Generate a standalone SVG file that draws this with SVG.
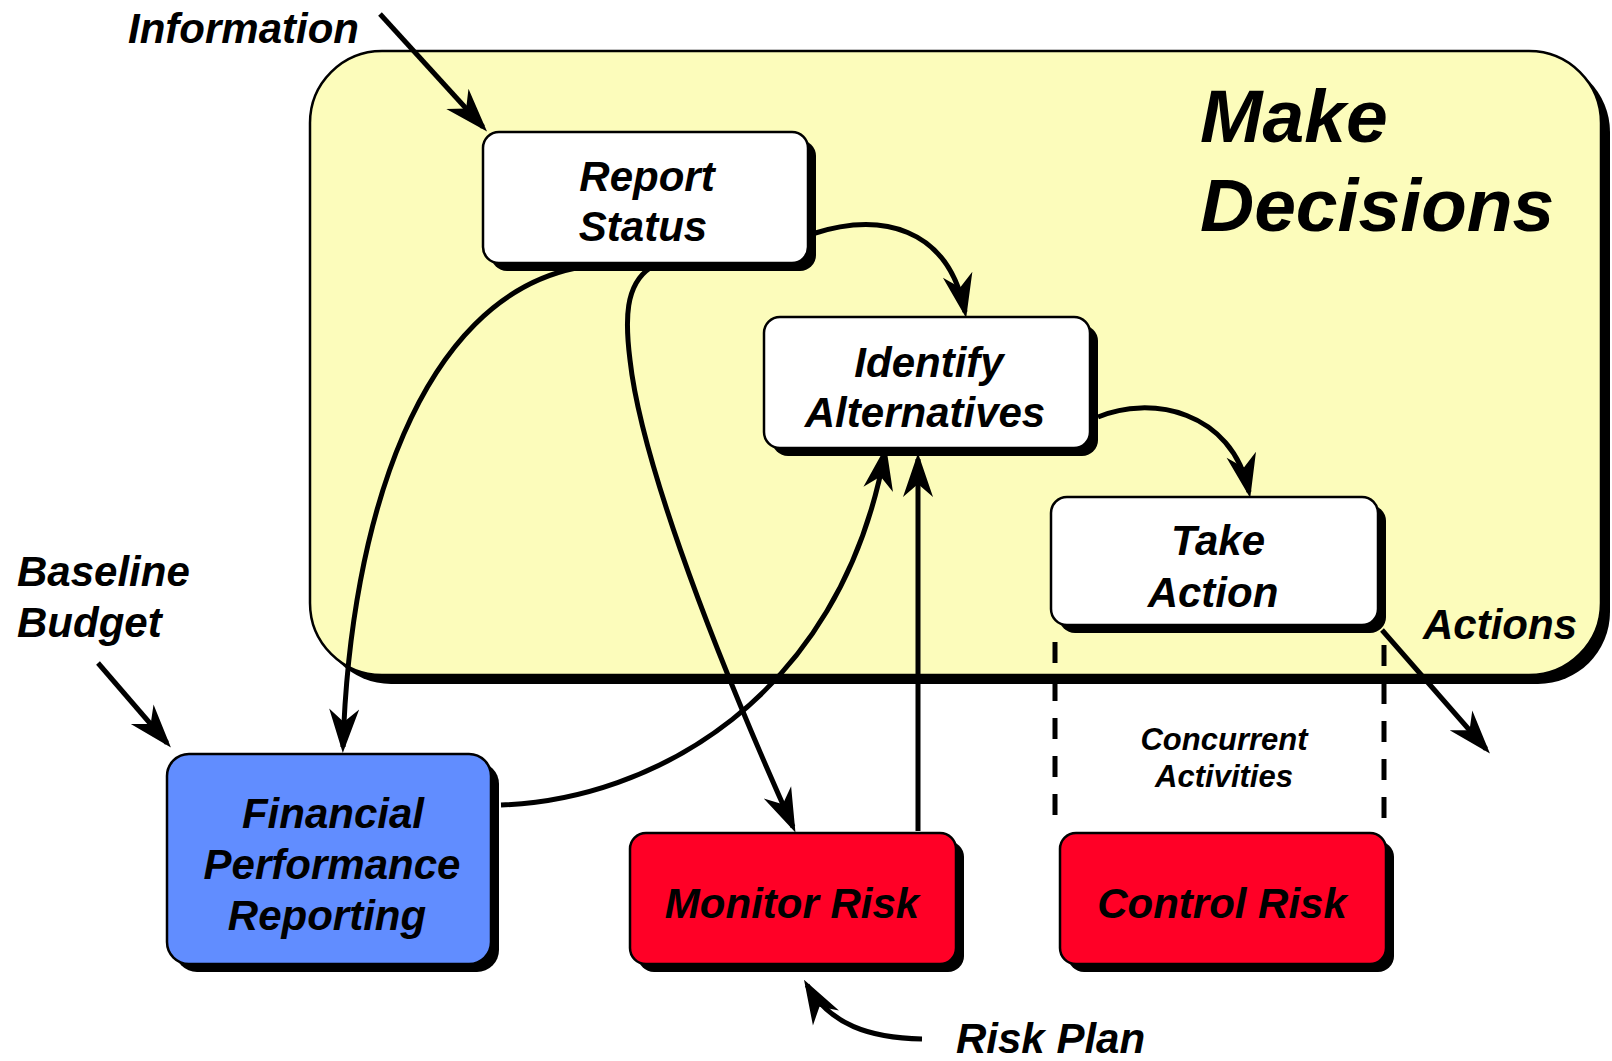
<svg xmlns="http://www.w3.org/2000/svg" width="1612" height="1061" viewBox="0 0 1612 1061">
<style>
.t{font-family:"Liberation Sans",Arial,sans-serif;font-weight:bold;font-style:italic;fill:#000}
.lbl{font-size:42px}
.mid{text-anchor:middle}
.big{font-size:75px}
.sm{font-size:31px}
.shadow{fill:#000}
.node{stroke:#000;stroke-width:2.5}
.white{fill:#fff}
.blue{fill:#618dff}
.red{fill:#ff0026}
.conn{fill:none;stroke:#000;stroke-width:5;marker-end:url(#arr)}
.dash{fill:none;stroke:#000;stroke-width:5;stroke-dasharray:21 17}
</style>
<defs>
<marker id="arr" markerUnits="userSpaceOnUse" viewBox="-46 -17 48 34" markerWidth="48" markerHeight="34" refX="-6" refY="0" orient="auto">
<path d="M0,0 L-44,-15 L-31,0 L-44,15 Z" fill="#000"/>
</marker>
</defs>

<g id="make-decisions">
<rect x="319" y="60" width="1291" height="624" rx="72" class="shadow"/>
<rect x="310" y="51" width="1291" height="624" rx="72" fill="#fcfcbb" stroke="#000" stroke-width="2.5"/>
<text class="t big" x="1200" y="142">Make</text>
<text class="t big" x="1200" y="231">Decisions</text>
</g>

<g id="concurrent">
<path class="dash" d="M1055,642 V815"/>
<path class="dash" d="M1384,645 V820"/>
<text class="t sm mid" x="1224" y="750">Concurrent</text>
<text class="t sm mid" x="1224" y="787">Activities</text>
</g>

<g id="connectors">
<path class="conn" d="M380,14 L483,127"/>
<path class="conn" d="M812,234 C880,212 948,226 965,312"/>
<path class="conn" d="M1098,417 C1150,395 1232,410 1249,492"/>
<path class="conn" d="M576,268 C420,300 350,520 343,747"/>
<path class="conn" d="M650,268 C625,285 625,320 630,360 C640,450 700,620 793,827"/>
<path class="conn" d="M501,805 C650,800 840,700 885,452"/>
<path class="conn" d="M918,831 V459"/>
<path class="conn" d="M1382,630 L1486,749"/>
<path class="conn" d="M98,663 L167,743"/>
<path class="conn" d="M922,1039 C870,1038 830,1025 807,985"/>
</g>

<g id="report-status">
<rect x="491" y="140" width="325" height="131" rx="16" class="shadow"/>
<rect x="483" y="132" width="325" height="131" rx="16" class="node white"/>
<text class="t lbl mid" x="647" y="191">Report</text>
<text class="t lbl mid" x="643" y="241">Status</text>
</g>

<g id="identify-alternatives">
<rect x="772" y="325" width="326" height="131" rx="16" class="shadow"/>
<rect x="764" y="317" width="326" height="131" rx="16" class="node white"/>
<text class="t lbl mid" x="929" y="377">Identify</text>
<text class="t lbl mid" x="925" y="427">Alternatives</text>
</g>

<g id="take-action">
<rect x="1059" y="505" width="327" height="128" rx="16" class="shadow"/>
<rect x="1051" y="497" width="327" height="128" rx="16" class="node white"/>
<text class="t lbl mid" x="1218" y="555">Take</text>
<text class="t lbl mid" x="1213" y="607">Action</text>
</g>

<g id="financial-performance-reporting">
<rect x="175" y="762" width="324" height="210" rx="22" class="shadow"/>
<rect x="167" y="754" width="324" height="210" rx="22" class="node blue"/>
<text class="t lbl mid" x="333" y="828">Financial</text>
<text class="t lbl mid" x="332" y="879">Performance</text>
<text class="t lbl mid" x="327" y="930">Reporting</text>
</g>

<g id="monitor-risk">
<rect x="638" y="841" width="326" height="131" rx="16" class="shadow"/>
<rect x="630" y="833" width="326" height="131" rx="16" class="node red"/>
<text class="t lbl mid" x="792" y="918">Monitor Risk</text>
</g>

<g id="control-risk">
<rect x="1068" y="841" width="326" height="131" rx="16" class="shadow"/>
<rect x="1060" y="833" width="326" height="131" rx="16" class="node red"/>
<text class="t lbl mid" x="1222" y="918">Control Risk</text>
</g>

<g id="labels">
<text class="t lbl" x="128" y="43">Information</text>
<text class="t lbl" x="17" y="586">Baseline</text>
<text class="t lbl" x="17" y="637">Budget</text>
<text class="t lbl" x="1423" y="639">Actions</text>
<text class="t lbl" x="956" y="1053">Risk Plan</text>
</g>
</svg>
